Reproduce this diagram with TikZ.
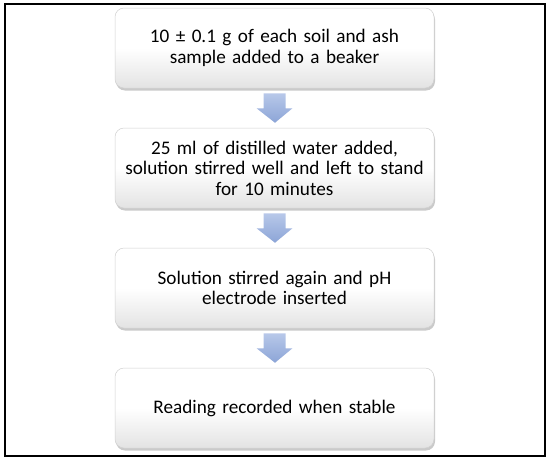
\documentclass[tikz,border=0pt]{standalone}
\usepackage{fontspec}
\setmainfont{Carlito}
\usetikzlibrary{shadows,calc}
\definecolor{arrtop}{RGB}{184,200,233}
\definecolor{arrbot}{RGB}{140,165,215}
\tikzset{
  stepbox/.style={rectangle, rounded corners=9pt, minimum width=319pt, minimum height=80pt,
    draw=black!18, line width=0.5pt, top color=white, bottom color=black!11, middle color=white,
    drop shadow={shadow xshift=1pt, shadow yshift=-2.5pt, opacity=0.35, fill=black!60},
    align=center, font=\fontsize{19.2}{20.5}\selectfont, inner sep=0pt, text width=314pt},
  bluearrow/.style={top color=arrtop, bottom color=arrbot, draw=none},
}
\begin{document}
\begin{tikzpicture}[x=1pt,y=-1pt]
\useasboundingbox (0,0) rectangle (550,461);
\draw[line width=1.5pt] (5,4) rectangle (545,456);
\node[stepbox] (b1) at (274.5,48) {10 ± 0.1 g of each soil and ash\\sample added to a beaker};
\node[stepbox] (b2) at (274.5,168) {25 ml of distilled water added,\\solution stirred well and left to stand\\for 10 minutes};
\node[stepbox] (b3) at (274.5,288) {Solution stirred again and pH\\electrode inserted};
\node[stepbox] (b4) at (274.5,408) {Reading recorded when stable};
\foreach \a/\b in {b1/b2,b2/b3,b3/b4}{
  \path[bluearrow] ($(\a.south)+(-11,5)$) -- ++(22,0) -- ++(0,15) -- ++(7,0)
    -- ($(\b.north)+(0.5,-5)$) -- ($(\a.south)+(-18,20)$) -- ++(7,0) -- cycle;
}
\end{tikzpicture}
\end{document}
